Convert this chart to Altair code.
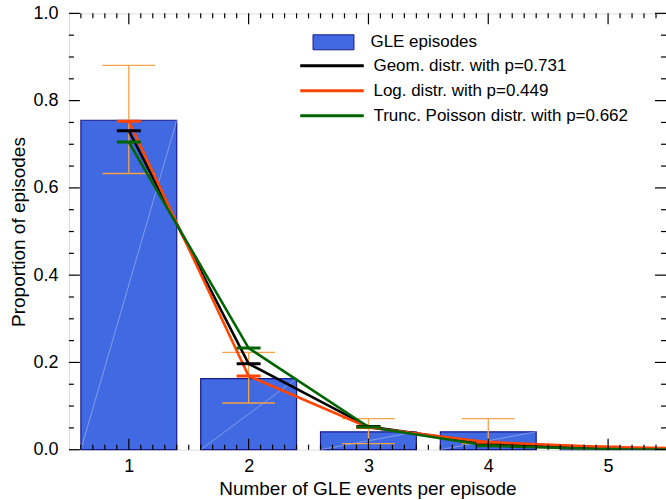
import altair as alt
import pandas as pd

# Observed proportion of GLE episodes by number of GLE events
events = [1, 2, 3, 4, 5]
proportion = [0.755, 0.163, 0.041, 0.041, 0.0]

# Uncertainty range on the observed proportions
err_events = [1, 2, 3, 4]
err_low = [0.633, 0.107, 0.014, 0.014]
err_high = [0.881, 0.223, 0.071, 0.071]

# Fitted model probabilities for 1..6 events per episode
model_events = [1, 2, 3, 4, 5, 6]
geom_prob = [0.731, 0.197, 0.053, 0.014, 0.004, 0.001]
log_prob = [0.753, 0.169, 0.051, 0.017, 0.006, 0.002]
pois_prob = [0.705, 0.233, 0.052, 0.009, 0.001, 0.0001]

series_names = [
    "Geom. distr. with p=0.731",
    "Log. distr. with p=0.449",
    "Trunc. Poisson distr. with p=0.662",
]
series_colors = ["#000000", "#ff4500", "#006400"]
bar_name = "GLE episodes"

# Axis tick positions
x_major = [1, 2, 3, 4, 5]
y_major = [0.0, 0.2, 0.4, 0.6, 0.8, 1.0]

FONT = "Liberation Sans"
W, H = 598, 437
PX_PER_UNIT = 120
X_DOMAIN = [0.5, 0.5 + W / PX_PER_UNIT]
BAR_HALF = 0.4
CAP_HALF = 0.22
MODEL_CAP_HALF = 0.1

bars = pd.DataFrame({"k": events, "p": proportion})
bars["lo"] = bars["k"] - BAR_HALF
bars["hi"] = bars["k"] + BAR_HALF
bars["base"] = 0.0
bars["series"] = bar_name

errs = pd.DataFrame({"k": err_events, "low": err_low, "high": err_high})
errs["lo"] = errs["k"] - CAP_HALF
errs["hi"] = errs["k"] + CAP_HALF

models = pd.concat(
    [
        pd.DataFrame({"k": model_events, "p": vals, "model": name})
        for name, vals in zip(series_names, [geom_prob, log_prob, pois_prob])
    ],
    ignore_index=True,
)
models["lo"] = models["k"] - MODEL_CAP_HALF
models["hi"] = models["k"] + MODEL_CAP_HALF

x_minor = [round(0.6 + 0.1 * i, 1) for i in range(49)]
x_minor = [v for v in x_minor if abs(v - round(v)) > 1e-6 and v < X_DOMAIN[1]]
y_minor = [round(0.05 * i, 2) for i in range(21)]
y_minor = [v for v in y_minor if v not in y_major]

xs = alt.Scale(domain=X_DOMAIN, nice=False, zero=False)
ys = alt.Scale(domain=[0, 1], nice=False, zero=False)

color_scale = alt.Scale(domain=series_names, range=series_colors)

x_axis = alt.Axis(
    values=x_major, ticks=False, domain=False, grid=False, format="d",
    labelFont=FONT, labelFontSize=18, labelColor="black", labelPadding=8,
    title="Number of GLE events per episode", titleFont=FONT, titleFontSize=19,
    titleFontWeight="normal", titleColor="black",
    titleBaseline="alphabetic", titleY=45,
)
y_axis = alt.Axis(
    values=y_major, ticks=False, domain=False, grid=False, format=".1f",
    labelFont=FONT, labelFontSize=18, labelColor="black", labelPadding=11,
    title="Proportion of episodes", titleFont=FONT, titleFontSize=19,
    titleFontWeight="normal", titleColor="black",
    titleBaseline="alphabetic", titleX=-44, titleY=H / 2, titleAngle=-90,
    titleAlign="center",
)


def X(field):
    return alt.X(field, scale=xs, axis=x_axis)


def Y(field):
    return alt.Y(field, scale=ys, axis=y_axis)


bar_layer = alt.Chart(bars).mark_rect(
    stroke="#1a1a8c", strokeWidth=1.2
).encode(
    x=X("lo:Q"),
    x2="hi:Q",
    y=Y("p:Q"),
    y2="base:Q",
    fill=alt.Fill(
        "series:N",
        scale=alt.Scale(domain=[bar_name], range=["#4169e1"]),
        legend=alt.Legend(
            orient="none", legendX=244, legendY=8, title=None,
            symbolType="M-1,-0.366H1V0.366H-1Z", symbolSize=1681,
            symbolStrokeColor="#1a1a8c", symbolStrokeWidth=1, symbolOpacity=1,
            labelFont=FONT, labelFontSize=17, labelColor="black", labelOffset=16,
        ),
    ),
)

# faint diagonal streak across each bar
streak_layer = alt.Chart(bars).mark_rule(
    color="#b4c4f4", strokeWidth=0.7, opacity=0.8
).encode(
    x=X("lo:Q"),
    x2="hi:Q",
    y=Y("base:Q"),
    y2="p:Q",
)

err_color = "#f5a24a"
err_v = alt.Chart(errs).mark_rule(color=err_color, strokeWidth=1.3).encode(
    x=X("k:Q"),
    y=Y("low:Q"),
    y2="high:Q",
)
err_cap_low = alt.Chart(errs).mark_rule(color=err_color, strokeWidth=1.3).encode(
    x=X("lo:Q"), x2="hi:Q",
    y=Y("low:Q"),
)
err_cap_high = alt.Chart(errs).mark_rule(color=err_color, strokeWidth=1.3).encode(
    x=X("lo:Q"), x2="hi:Q",
    y=Y("high:Q"),
)

# legend line symbol: a horizontal stroke three times wider than the symbol box
line_symbol = "M-3,0H3"

model_lines = alt.Chart(models).mark_line(strokeWidth=2.6, clip=True).encode(
    x=X("k:Q"),
    y=Y("p:Q"),
    color=alt.Color(
        "model:N", scale=color_scale, sort=series_names,
        legend=alt.Legend(
            orient="none", legendX=219, legendY=40, title=None,
            symbolType=line_symbol, symbolSize=450, symbolStrokeWidth=3,
            symbolOffset=32,
            labelFont=FONT, labelFontSize=17, labelColor="black",
            labelOffset=29, rowPadding=4, labelLimit=400,
        ),
    ),
    order="k:Q",
)
model_caps = alt.Chart(models).mark_rule(strokeWidth=3, clip=True).encode(
    x=X("lo:Q"), x2="hi:Q",
    y=Y("p:Q"),
    color=alt.Color("model:N", scale=color_scale, legend=None),
)


def tick_layer(values, axis_ch, length, side):
    df = pd.DataFrame({"v": values})
    base = alt.Chart(df).mark_rule(color="black", strokeWidth=1.2)
    if axis_ch == "y":
        pos = Y("v:Q")
        if side == "left":
            return base.encode(y=pos, x=alt.value(0), x2=alt.value(length))
        return base.encode(y=pos, x=alt.value(W), x2=alt.value(W - length))
    pos = X("v:Q")
    if side == "bottom":
        return base.encode(x=pos, y=alt.value(H), y2=alt.value(H - length))
    return base.encode(x=pos, y=alt.value(0), y2=alt.value(length))


ticks = [
    tick_layer(y_major, "y", 11, "left"),
    tick_layer(y_minor, "y", 5, "left"),
    tick_layer(y_major, "y", 11, "right"),
    tick_layer(y_minor, "y", 5, "right"),
    tick_layer(x_major, "x", 11, "bottom"),
    tick_layer(x_minor, "x", 5, "bottom"),
    tick_layer(x_major, "x", 11, "top"),
    tick_layer(x_minor, "x", 5, "top"),
]

chart = alt.layer(
    bar_layer, streak_layer, err_v, err_cap_low, err_cap_high,
    model_lines, model_caps, *ticks,
).resolve_legend(
    color="independent", fill="independent"
).properties(
    width=W, height=H,
    padding={"left": 69, "top": 13, "right": 0, "bottom": 50},
    autosize=alt.AutoSizeParams(type="none"),
).configure_view(
    stroke="black", strokeWidth=1.4
).configure(
    background="white"
)

chart.save("out.html", embed_options={"renderer": "svg", "actions": False})
